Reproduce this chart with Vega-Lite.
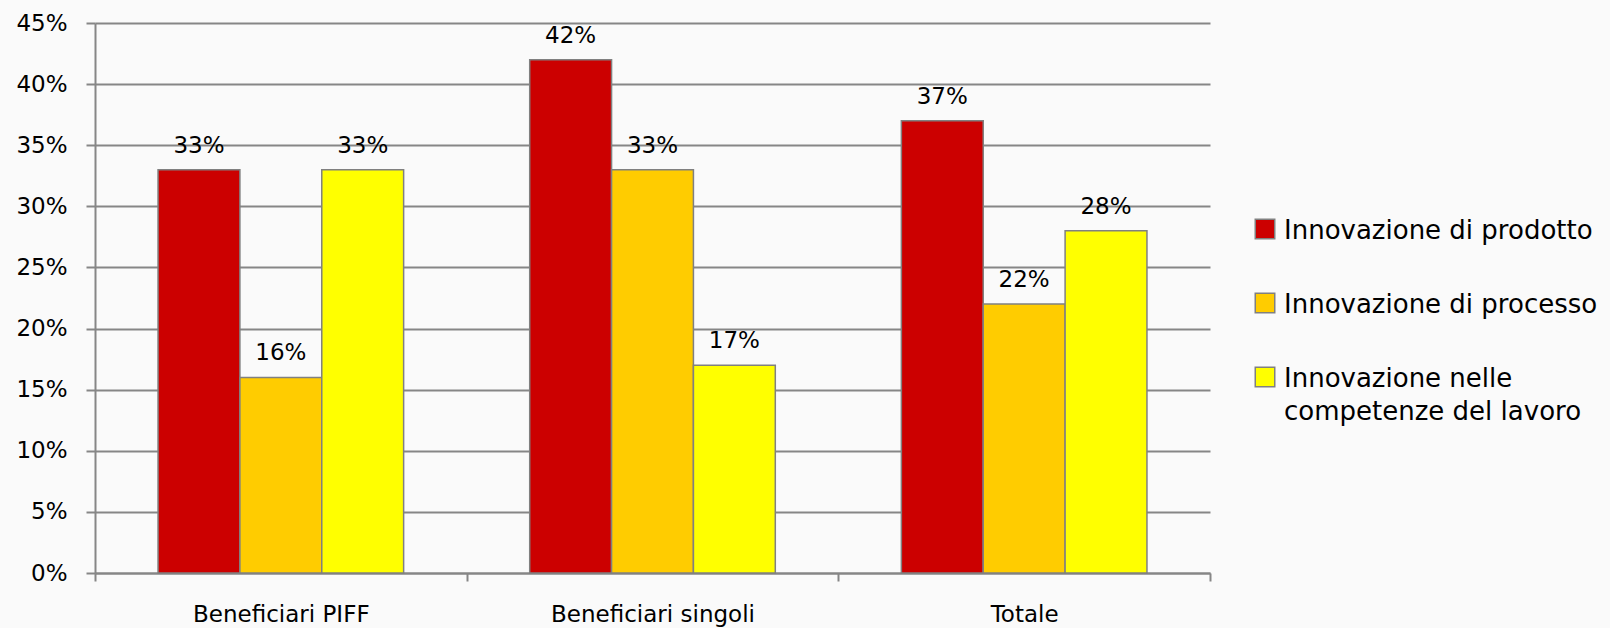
{
  "$schema": "https://vega.github.io/schema/vega-lite/v6.json",
  "width": 1115,
  "height": 550,
  "autosize": {"type": "none"},
  "padding": {"left": 95, "top": 23, "right": 400, "bottom": 55},
  "background": "#fafafa",
  "config": {
    "font": "DejaVu Sans",
    "view": {"stroke": null}
  },
  "data": {
    "values": [
      {"gruppo": "Beneficiari PIFF", "tipo": "Innovazione di prodotto", "valore": 0.33},
      {"gruppo": "Beneficiari PIFF", "tipo": "Innovazione di processo", "valore": 0.16},
      {"gruppo": "Beneficiari PIFF", "tipo": "Innovazione nelle competenze del lavoro", "valore": 0.33},
      {"gruppo": "Beneficiari singoli", "tipo": "Innovazione di prodotto", "valore": 0.42},
      {"gruppo": "Beneficiari singoli", "tipo": "Innovazione di processo", "valore": 0.33},
      {"gruppo": "Beneficiari singoli", "tipo": "Innovazione nelle competenze del lavoro", "valore": 0.17},
      {"gruppo": "Totale", "tipo": "Innovazione di prodotto", "valore": 0.37},
      {"gruppo": "Totale", "tipo": "Innovazione di processo", "valore": 0.22},
      {"gruppo": "Totale", "tipo": "Innovazione nelle competenze del lavoro", "valore": 0.28}
    ]
  },
  "encoding": {
    "x": {
      "field": "gruppo",
      "type": "nominal",
      "sort": ["Beneficiari PIFF", "Beneficiari singoli", "Totale"],
      "scale": {"paddingInner": 0, "paddingOuter": 0},
      "axis": {
        "title": null,
        "labelAngle": 0,
        "tickBand": "extent",
        "tickSize": 8,
        "tickWidth": 2,
        "tickColor": "#868686",
        "domainColor": "#868686",
        "domainWidth": 2,
        "labelFontSize": 23,
        "labelColor": "#000000",
        "labelPadding": 22,
        "labelLimit": 400,
        "grid": false
      }
    },
    "xOffset": {
      "field": "tipo",
      "type": "nominal",
      "sort": ["Innovazione di prodotto", "Innovazione di processo", "Innovazione nelle competenze del lavoro"],
      "scale": {"paddingInner": 0, "paddingOuter": 0.77}
    },
    "y": {
      "field": "valore",
      "type": "quantitative",
      "scale": {"domain": [0, 0.45], "nice": false},
      "axis": {
        "title": null,
        "values": [0, 0.05, 0.1, 0.15, 0.2, 0.25, 0.3, 0.35, 0.4, 0.45],
        "format": ".0%",
        "grid": true,
        "gridColor": "#868686",
        "gridWidth": 2,
        "gridOpacity": 1,
        "tickSize": 9,
        "tickWidth": 2,
        "tickColor": "#868686",
        "domainColor": "#868686",
        "domainWidth": 2,
        "labelFontSize": 23,
        "labelColor": "#000000",
        "labelPadding": 19
      }
    }
  },
  "layer": [
    {
      "mark": {"type": "bar", "stroke": "#808080", "strokeWidth": 1.5},
      "encoding": {
        "color": {
          "field": "tipo",
          "type": "nominal",
          "sort": ["Innovazione di prodotto", "Innovazione di processo", "Innovazione nelle competenze del lavoro"],
          "scale": {
            "domain": ["Innovazione di prodotto", "Innovazione di processo", "Innovazione nelle competenze del lavoro"],
            "range": ["#cc0000", "#ffcc00", "#ffff00"]
          },
          "legend": {
            "title": null,
            "orient": "none",
            "legendX": 1157,
            "legendY": 193,
            "padding": 0,
            "symbolType": "square",
            "symbolSize": 380,
            "symbolStrokeColor": "#808080",
            "symbolStrokeWidth": 1.5,
            "symbolOpacity": 1,
            "labelFontSize": 26,
            "labelColor": "#000000",
            "labelOffset": 6,
            "labelLimit": 400,
            "labelBaseline": "alphabetic",
            "rowPadding": 46,
            "labelExpr": "datum.label == 'Innovazione nelle competenze del lavoro' ? ['Innovazione nelle', 'competenze del lavoro'] : datum.label",
            "encode": {"labels": {"update": {"dy": {"value": 9.5}, "lineHeight": {"value": 33}}}}
          }
        }
      }
    },
    {
      "mark": {"type": "text", "baseline": "alphabetic", "dy": -17, "fontSize": 23, "color": "#000000"},
      "encoding": {
        "text": {"field": "valore", "type": "quantitative", "format": ".0%"}
      }
    }
  ]
}
